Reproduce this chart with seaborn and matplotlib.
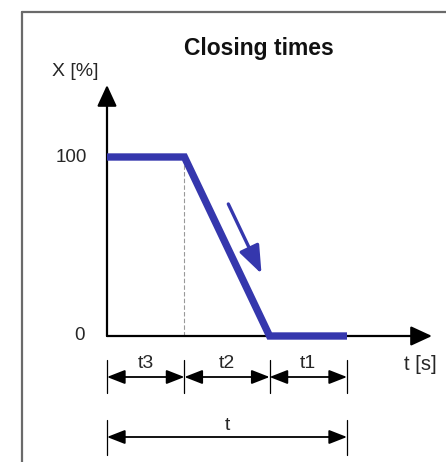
import numpy as np
import pandas as pd
import seaborn as sns
import matplotlib
matplotlib.use("Agg")
import matplotlib.pyplot as plt
from matplotlib.patches import FancyArrowPatch
from matplotlib.lines import Line2D
from matplotlib.transforms import offset_copy

# Phase durations of the closing sequence (arbitrary time units)
phase_names = ["t3", "t2", "t1"]
phase_durations = [3.0, 3.3, 3.0]
# Valve position at start and end of the sequence
position_levels = [100, 0]
y_tick_labels = ["100", "0"]
title_text = "Closing times"
y_label = "X [%]"
x_label = "t [s]"
total_label = "t"

sns.set_theme(style="white")
plt.rcParams["font.family"] = ["Liberation Sans", "DejaVu Sans"]

t3, t2, t1 = phase_durations
hi, lo = position_levels
T = t3 + t2 + t1

# Position profile: hold, ramp down, hold
profile = pd.DataFrame({
    "time": [0.0, t3, t3 + t2, T],
    "X": [hi, hi, lo, lo],
})

W, H = 446, 462
fig = plt.figure(figsize=(W / 100, H / 100), dpi=100)
fig.patch.set_facecolor("white")
ax = fig.add_axes([0, 0, 1, 1])
ax.set_axis_off()

# Scale so that the diagram sits inside the frame
sx = 240 / T
sy = 1.79
x0_px, y0_px = 107, 336
ax.set_xlim(-x0_px / sx, (W - x0_px) / sx)
ax.set_ylim(-(H - y0_px) / sy, y0_px / sy)

def dy(px):
    # convert a pixel height to data units of X
    return px / sy

def dx(px):
    return px / sx

blue = "#3537ad"
text_col = "#262626"

# Dashed guide at the end of t3
ax.plot([t3, t3], [lo, hi], color="#999999", lw=0.8, ls=(0, (4, 2)), zorder=1)

# Axes with arrow heads
axis_style = "-|>,head_length=13,head_width=6"
ax.add_patch(FancyArrowPatch((0, lo), (0, hi + dy(72)), arrowstyle=axis_style,
                             color="black", lw=1.6, mutation_scale=1, shrinkA=0, shrinkB=0, zorder=2))
ax.add_patch(FancyArrowPatch((0, lo), (T + dx(85), lo), arrowstyle=axis_style,
                             color="black", lw=1.6, mutation_scale=1, shrinkA=0, shrinkB=0, zorder=2))

# Position profile
sns.lineplot(data=profile, x="time", y="X", ax=ax, color=blue, lw=5.3,
             solid_joinstyle="miter", solid_capstyle="butt", zorder=3, legend=False)
ax.set_axis_off()

# Direction arrow drawn parallel to the ramp
f0, f1 = 0.31, 0.70
start = (t3 + f0 * t2, hi - f0 * (hi - lo))
end = (t3 + f1 * t2, hi - f1 * (hi - lo))
shift = offset_copy(ax.transData, fig=fig, x=17.5, y=8.5, units="dots")
ax.add_patch(FancyArrowPatch(start, end, transform=shift,
                             arrowstyle="-|>,head_length=17,head_width=6.5",
                             mutation_scale=1, color=blue, lw=2.4,
                             shrinkA=0, shrinkB=0, zorder=3))

# Tick labels and axis labels
ax.text(-dx(20), hi, y_tick_labels[0], ha="right", va="center", fontsize=13.5, color=text_col)
ax.text(-dx(22), lo, y_tick_labels[1], ha="right", va="center", fontsize=13.5, color=text_col)
ax.text(-dx(32), hi + dy(85), y_label, ha="center", va="center", fontsize=14, color=text_col)
ax.text(T + dx(73), -dy(29), x_label, ha="center", va="center", fontsize=14.5, color=text_col)
fig.text(259 / W, 1 - 48 / H, title_text, ha="center", va="center", fontsize=16.5,
         fontweight="bold", color="#111111")

# Dimension lines for the individual phases
edges = np.concatenate([[0.0], np.cumsum(phase_durations)])
row1 = -dy(41)
for e in edges:
    ax.plot([e, e], [-dy(24), -dy(57)], color="black", lw=0.9, zorder=2)
dim_style = "<|-|>,head_length=11,head_width=4.3"
for a, b, name in zip(edges[:-1], edges[1:], phase_names):
    ax.add_patch(FancyArrowPatch((a, row1), (b, row1), arrowstyle=dim_style, mutation_scale=1,
                                 color="black", lw=1.3, shrinkA=0, shrinkB=0, zorder=2))
    ax.text((a + b) / 2, -dy(28), name, ha="center", va="center", fontsize=14, color=text_col)

# Dimension line for the total closing time
row2 = -dy(101)
for e in [0.0, T]:
    ax.plot([e, e], [-dy(84), -dy(119)], color="black", lw=0.9, zorder=2)
ax.add_patch(FancyArrowPatch((0.0, row2), (T, row2), arrowstyle=dim_style, mutation_scale=1,
                             color="black", lw=1.3, shrinkA=0, shrinkB=0, zorder=2))
ax.text(T / 2, -dy(89), total_label, ha="center", va="center", fontsize=14, color=text_col)

# Frame along the left and top edges
fig.add_artist(Line2D([22 / W, 22 / W], [0, 1 - 12 / H], color="#6a6a6a", lw=1.6))
fig.add_artist(Line2D([22 / W, 1], [1 - 12 / H, 1 - 12 / H], color="#6a6a6a", lw=1.6))

fig.savefig("out.png", dpi=100, facecolor="white")
